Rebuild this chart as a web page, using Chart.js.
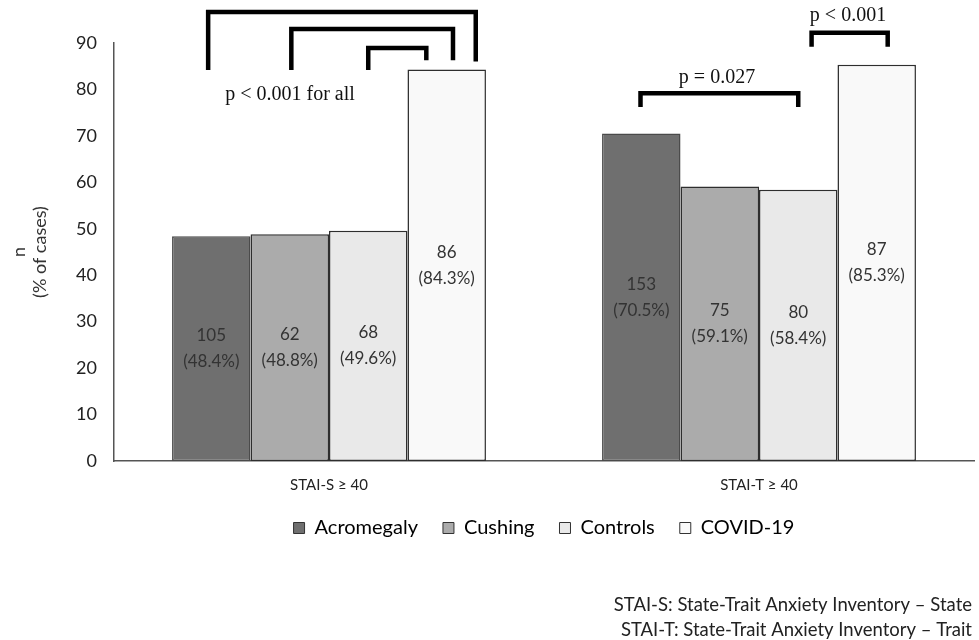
<!DOCTYPE html>
<html>
<head>
<meta charset="utf-8">
<script src="https://cdn.jsdelivr.net/npm/chart.js@4.4.1/dist/chart.umd.min.js"></script>
<style>
  html, body { margin: 0; padding: 0; background: #ffffff; }
  #wrap { width: 979px; height: 640px; position: relative; }
</style>
</head>
<body>
<div id="wrap"><canvas id="c" width="979" height="640"></canvas></div>
<script>
// ---- data ----
const categories = ['STAI-S \u2265 40', 'STAI-T \u2265 40'];
const seriesNames = ['Acromegaly', 'Cushing', 'Controls', 'COVID-19'];
const acromegalyPct = [48.4, 70.5];
const cushingPct = [48.8, 59.1];
const controlsPct = [49.6, 58.4];
const covidPct = [84.3, 85.3];
const acromegalyN = [105, 153];
const cushingN = [62, 75];
const controlsN = [68, 80];
const covidN = [86, 87];
const yTicks = [0, 10, 20, 30, 40, 50, 60, 70, 80, 90];

const seriesPct = [acromegalyPct, cushingPct, controlsPct, covidPct];
const seriesN = [acromegalyN, cushingN, controlsN, covidN];
const fills = ['#6f6f6f', '#ababab', '#e9e9e9', '#f9f9f9'];
const borders = ['#4a4a4a', '#2e2e2e', '#2e2e2e', '#2e2e2e'];

// significance brackets (ends given relative to bars: offset in bar widths from bar centre)
const brackets = [
  {cat: 0, from: 0, fromOff: -0.04, to: 3, toOff: 0.37, top: 96.7, lb: 84.2, rb: 86.0},
  {cat: 0, from: 1, fromOff: 0.02, to: 3, toOff: 0.08, top: 93.0, lb: 84.2, rb: 86.3},
  {cat: 0, from: 2, fromOff: 0.0, to: 3, toOff: -0.26, top: 88.9, lb: 84.2, rb: 86.3},
  {cat: 1, from: 0, fromOff: -0.01, to: 2, toOff: 0.0, top: 79.2, lb: 76.2, rb: 76.2},
  {cat: 1, from: 2, fromOff: 0.17, to: 3, toOff: 0.14, top: 92.2, lb: 89.2, rb: 89.2}
];
const pLabels = [
  {text: 'p < 0.001 for all', x: 290, yVal: 78.8},
  {text: 'p = 0.027', x: 717, yVal: 82.6},
  {text: 'p < 0.001', x: 848, yVal: 95.8}
];
const footnotes = ['STAI-S: State-Trait Anxiety Inventory \u2013 State', 'STAI-T: State-Trait Anxiety Inventory \u2013 Trait'];

const datasets = seriesNames.map((name, i) => ({
  label: name,
  data: seriesPct[i],
  backgroundColor: fills[i],
  borderColor: borders[i],
  borderWidth: 1.5,
  borderSkipped: false,
  categoryPercentage: 0.73,
  barPercentage: 1.0
}));

const sans = 'Lato, "Open Sans", sans-serif';

const overlay = {
  id: 'overlay',
  afterDatasetsDraw(chart) {
    const ctx = chart.ctx;
    const y = chart.scales.y;
    // value labels inside bars
    ctx.save();
    ctx.fillStyle = '#333333';
    ctx.font = '17px ' + sans;
    ctx.textAlign = 'center';
    ctx.textBaseline = 'middle';
    chart.data.datasets.forEach((ds, di) => {
      const meta = chart.getDatasetMeta(di);
      meta.data.forEach((bar, j) => {
        const cy = (bar.y + bar.base) / 2;
        ctx.fillText(String(seriesN[di][j]), bar.x, cy - 13);
        ctx.fillText('(' + seriesPct[di][j].toFixed(1) + '%)', bar.x, cy + 13);
      });
    });
    ctx.restore();

    // brackets
    ctx.save();
    ctx.strokeStyle = '#000000';
    ctx.lineWidth = 4.5;
    ctx.lineJoin = 'miter';
    ctx.lineCap = 'butt';
    brackets.forEach(b => {
      const lbar = chart.getDatasetMeta(b.from).data[b.cat];
      const rbar = chart.getDatasetMeta(b.to).data[b.cat];
      const lx = lbar.x + lbar.width * b.fromOff;
      const rx = rbar.x + rbar.width * b.toOff;
      ctx.beginPath();
      ctx.moveTo(lx, y.getPixelForValue(b.lb));
      ctx.lineTo(lx, y.getPixelForValue(b.top));
      ctx.lineTo(rx, y.getPixelForValue(b.top));
      ctx.lineTo(rx, y.getPixelForValue(b.rb));
      ctx.stroke();
    });
    ctx.restore();

    // p labels
    ctx.save();
    ctx.fillStyle = '#111111';
    ctx.font = '20px "Liberation Serif", "DejaVu Serif", serif';
    ctx.textAlign = 'center';
    ctx.textBaseline = 'middle';
    pLabels.forEach(p => ctx.fillText(p.text, p.x, y.getPixelForValue(p.yVal)));
    ctx.restore();

    // footnotes
    ctx.save();
    ctx.fillStyle = '#222222';
    ctx.font = '18.5px ' + sans;
    ctx.textAlign = 'right';
    ctx.textBaseline = 'middle';
    ctx.fillText(footnotes[0], 972, 605);
    ctx.fillText(footnotes[1], 972, 630);
    ctx.restore();
  }
};

new Chart(document.getElementById('c'), {
  type: 'bar',
  data: { labels: categories, datasets },
  options: {
    responsive: false,
    animation: false,
    devicePixelRatio: 1,
    layout: { padding: { top: 43, right: 5, bottom: 92, left: 8 } },
    plugins: {
      legend: {
        position: 'bottom',
        fullSize: false,
        labels: {
          boxWidth: 11,
          boxHeight: 11,
          padding: 25,
          color: '#222222',
          font: { size: 20, family: sans },
          generateLabels(chart) {
            return chart.data.datasets.map((ds, i) => ({
              text: ds.label,
              fillStyle: ds.backgroundColor,
              strokeStyle: '#333333',
              lineWidth: 1,
              hidden: false,
              datasetIndex: i
            }));
          }
        }
      },
      tooltip: { enabled: false }
    },
    scales: {
      x: {
        grid: { display: false, drawTicks: false },
        border: { display: true, color: '#555555', width: 1.5 },
        ticks: { color: '#222222', padding: 15, font: { size: 15, family: sans } },
        afterFit(s) { s.height = 32; }
      },
      y: {
        min: 0,
        max: 90,
        afterBuildTicks(s) { s.ticks = yTicks.map(v => ({ value: v })); },
        grid: { display: false, drawTicks: false },
        border: { display: true, color: '#555555', width: 1.5 },
        ticks: { color: '#222222', padding: 17, font: { size: 18, family: sans } },
        title: {
          display: true,
          text: ['n', '(% of cases)'],
          color: '#333333',
          font: { size: 18, family: sans },
          padding: { top: 0, bottom: 4 }
        },
        afterFit(s) { s.width = 106; }
      }
    }
  },
  plugins: [overlay]
});
</script>
</body>
</html>
